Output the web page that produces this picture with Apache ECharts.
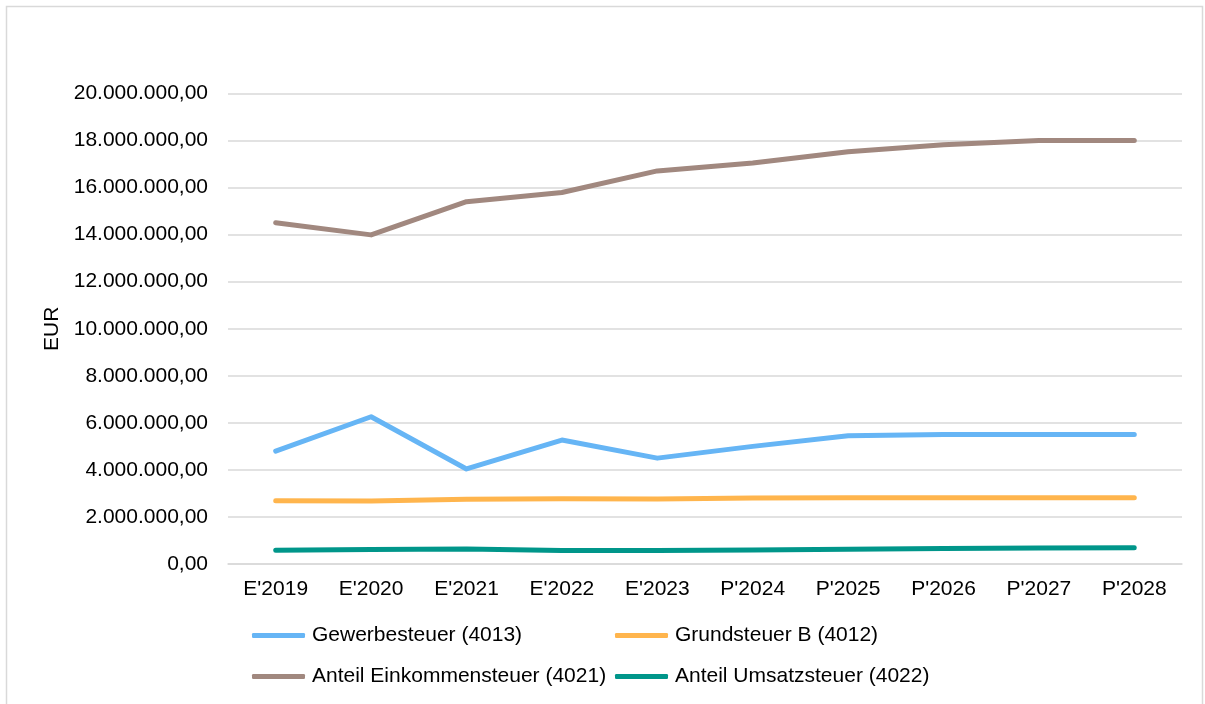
<!DOCTYPE html>
<html>
<head>
<meta charset="utf-8">
<script src="https://cdn.jsdelivr.net/npm/echarts@6/dist/echarts.min.js"></script>
<style>
html,body{margin:0;padding:0;background:#fff;}
#c{width:1205px;height:704px;}
</style>
</head>
<body>
<div id="c"></div>
<script>
const categories = ["E'2019","E'2020","E'2021","E'2022","E'2023","P'2024","P'2025","P'2026","P'2027","P'2028"];
const gewerbesteuer = [4800000, 6260000, 4040000, 5270000, 4500000, 5000000, 5450000, 5500000, 5500000, 5500000];
const grundsteuerB = [2690000, 2680000, 2750000, 2770000, 2760000, 2810000, 2820000, 2820000, 2820000, 2820000];
const einkommensteuer = [14510000, 13990000, 15400000, 15790000, 16710000, 17050000, 17520000, 17820000, 18000000, 18000000];
const umsatzsteuer = [580000, 620000, 640000, 570000, 570000, 600000, 630000, 660000, 680000, 690000];
const seriesNames = ["Gewerbesteuer (4013)", "Grundsteuer B (4012)", "Anteil Einkommensteuer (4021)", "Anteil Umsatzsteuer (4022)"];
const colors = ["#66B5F5", "#FFB54D", "#A1887F", "#00968A"];

function fmtDE(v) {
  const s = Math.round(v).toString().replace(/\B(?=(\d{3})+(?!\d))/g, '.');
  return s + ',00';
}

const FONT = 'Liberation Sans, Arial, sans-serif';
const FS = 21;
const chart = echarts.init(document.getElementById('c'), null, {renderer: 'canvas'});
const dataArr = [gewerbesteuer, grundsteuerB, einkommensteuer, umsatzsteuer];
const legendPos = [
  {left: 252, top: 625},
  {left: 615, top: 625},
  {left: 252, top: 666},
  {left: 615, top: 666}
];

chart.setOption({
  animation: false,
  color: colors,
  graphic: [{
    type: 'rect',
    shape: {x: 6.5, y: 6.5, width: 1196, height: 710},
    style: {fill: 'none', stroke: '#D9D9D9', lineWidth: 1.5},
    silent: true
  }],
  grid: {left: 228, right: 23, top: 93.5, bottom: 140, containLabel: false},
  legend: legendPos.map((p, i) => ({
    data: [seriesNames[i]],
    left: p.left, top: p.top,
    icon: 'roundRect',
    itemWidth: 53, itemHeight: 5,
    padding: 0,
    textStyle: {fontFamily: FONT, fontSize: FS, color: '#000', padding: [0, 0, 0, 2]}
  })),
  xAxis: {
    type: 'category',
    data: categories,
    boundaryGap: true,
    axisLine: {show: true, lineStyle: {color: '#D9D9D9', width: 1.5}},
    axisTick: {show: false},
    axisLabel: {fontFamily: FONT, fontSize: FS, color: '#000', margin: 15}
  },
  yAxis: {
    type: 'value',
    min: 0, max: 20000000, interval: 2000000,
    name: 'EUR',
    nameLocation: 'middle',
    nameGap: 162,
    nameTextStyle: {fontFamily: FONT, fontSize: FS, color: '#000'},
    axisLine: {show: false},
    axisTick: {show: false},
    splitLine: {lineStyle: {color: '#D9D9D9', width: 1.5}},
    axisLabel: {fontFamily: FONT, fontSize: FS, color: '#000', margin: 20, formatter: fmtDE}
  },
  series: dataArr.map((d, i) => ({
    name: seriesNames[i],
    type: 'line',
    data: d,
    symbol: 'none',
    showSymbol: false,
    lineStyle: {width: 5, color: colors[i], cap: 'round', join: 'round'},
    itemStyle: {color: colors[i]},
    z: i === 3 ? 5 : 3
  }))
});
</script>
</body>
</html>
